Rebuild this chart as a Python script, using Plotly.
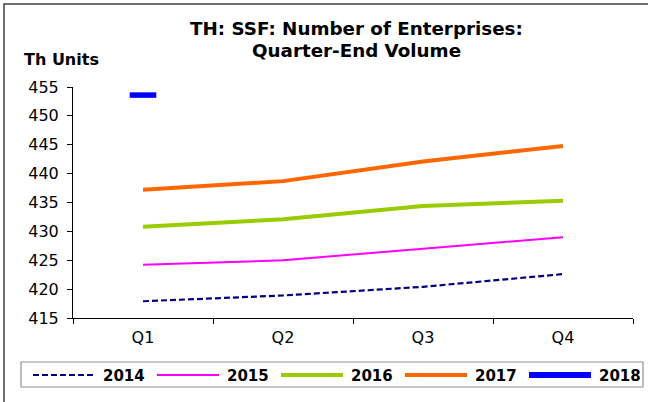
import plotly.graph_objects as go

# ---- data ----
quarters = ["Q1", "Q2", "Q3", "Q4"]
series_names = ["2014", "2015", "2016", "2017", "2018"]
v2014 = [417.9, 418.9, 420.4, 422.6]
v2015 = [424.2, 425.0, 427.0, 429.0]
v2016 = [430.8, 432.1, 434.4, 435.3]
v2017 = [437.2, 438.7, 442.1, 444.8]
v2018 = [453.6, None, None, None]
values = [v2014, v2015, v2016, v2017, v2018]

y_ticks = [415, 420, 425, 430, 435, 440, 445, 450, 455]
title_lines = ["TH: SSF: Number of Enterprises:", "Quarter-End Volume"]
unit_label = "Th Units"

# ---- styles ----
colors = ["#000080", "#FF00FF", "#99CC00", "#FF6600", "#0000FF"]
widths = [2.2, 2, 4, 4, 5.5]
dashes = ["6px,3px", "solid", "solid", "solid", "solid"]
FONT = "DejaVu Sans"

W, H = 648, 402
ML, MR, MT, MB = 73, 15, 87, 84
PW, PH = W - ML - MR, H - MT - MB


def px(xp):
    return (xp - ML) / PW


def py(yp):
    return (H - MB - yp) / PH


fig = go.Figure()
for name, vals, c, w, d in zip(series_names, values, colors, widths, dashes):
    if name == "2018":
        fig.add_trace(go.Scatter(
            x=quarters, y=vals, mode="markers", name=name, showlegend=False,
            marker=dict(symbol="line-ew", size=19, color=c,
                        line=dict(color=c, width=w)),
            hoverinfo="x+y+name"))
    else:
        fig.add_trace(go.Scatter(
            x=quarters, y=vals, mode="lines", name=name, showlegend=False,
            line=dict(color=c, width=w, dash=d)))

shapes = []
annotations = []

# outer chart border
shapes.append(dict(type="rect", xref="paper", yref="paper",
                   x0=px(4), x1=px(652), y0=py(410), y1=py(4),
                   line=dict(color="#404040", width=1.5), layer="below"))

# legend box
shapes.append(dict(type="rect", xref="paper", yref="paper",
                   x0=px(21), x1=px(643), y0=py(387), y1=py(362),
                   line=dict(color="#909090", width=1.2)))
for i, (name, c, w, d) in enumerate(zip(series_names, colors, widths, dashes)):
    x0 = 33 + i * 124
    lw = w if name != "2018" else 6
    shapes.append(dict(type="line", xref="paper", yref="paper",
                       x0=px(x0), x1=px(x0 + 62), y0=py(375), y1=py(375),
                       line=dict(color=c, width=lw, dash=d)))
    annotations.append(dict(xref="paper", yref="paper", x=px(x0 + 68), y=py(375.5),
                            xanchor="left", yanchor="middle", showarrow=False,
                            text="<b>%s</b>" % name,
                            font=dict(family=FONT, size=15, color="#000000")))

# title (two lines placed individually)
for line, yc in zip(title_lines, [28.5, 50.5]):
    annotations.append(dict(xref="paper", yref="paper", x=px(356), y=py(yc),
                            xanchor="center", yanchor="middle", showarrow=False,
                            text="<b>%s</b>" % line,
                            font=dict(family=FONT, size=18.3, color="#000000")))

# axis unit label
annotations.append(dict(xref="paper", yref="paper", x=px(22), y=py(59),
                        xanchor="left", yanchor="middle", showarrow=False,
                        text="<b>%s</b>" % unit_label,
                        font=dict(family=FONT, size=16, color="#000000")))

fig.update_layout(
    width=W, height=H,
    margin=dict(l=ML, r=MR, t=MT, b=MB, pad=0),
    paper_bgcolor="white", plot_bgcolor="white",
    showlegend=False,
    xaxis=dict(type="category", categoryorder="array", categoryarray=quarters,
               range=[-0.5, 3.5], tickson="boundaries",
               showline=True, linecolor="black", linewidth=1,
               ticks="outside", ticklen=5, tickcolor="black", tickwidth=1,
               showgrid=False, zeroline=False, ticklabelstandoff=5,
               tickfont=dict(family=FONT, size=16, color="#000000")),
    yaxis=dict(range=[415, 455], tickvals=y_ticks,
               showline=True, linecolor="black", linewidth=1,
               ticks="outside", ticklen=5, tickcolor="black", tickwidth=1,
               showgrid=False, zeroline=False, ticklabelstandoff=5,
               tickfont=dict(family=FONT, size=16, color="#000000")),
    shapes=shapes,
    annotations=annotations,
)

fig.write_html("out.html", config={"displayModeBar": False},
               post_script="document.body.style.margin='0';document.body.style.padding='0';")
